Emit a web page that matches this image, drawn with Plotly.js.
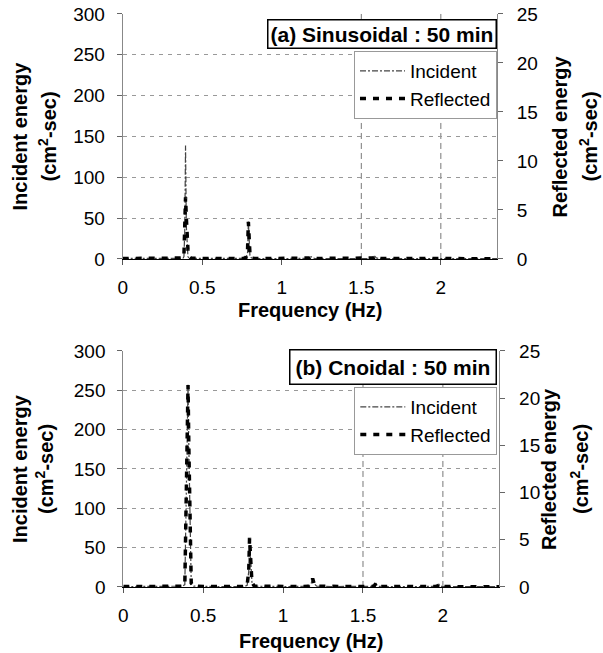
<!DOCTYPE html>
<html>
<head>
<meta charset="utf-8">
<script src="https://cdn.plot.ly/plotly-3.0.1.min.js"></script>
<style>html,body{margin:0;padding:0;background:#fff;}#chart{width:603px;height:653px;}</style>
</head>
<body>
<div id="chart"></div>
<script>
// Panel (a) Sinusoidal : 50 min
const freqA = [0, 0.1, 0.2, 0.3, 0.36, 0.38, 0.385, 0.39, 0.395, 0.40, 0.405, 0.41, 0.415, 0.43, 0.5, 0.6, 0.7, 0.76, 0.775, 0.785, 0.79, 0.795, 0.80, 0.81, 0.83, 0.9, 1.0, 1.1, 1.16, 1.175, 1.185, 1.195, 1.21, 1.3, 1.4, 1.5, 1.56, 1.575, 1.585, 1.595, 1.61, 1.7, 1.8, 1.9, 2.0, 2.1, 2.2, 2.3, 2.353];
const incidentA = [0.6, 0.5, 0.6, 0.7, 0.8, 1.2, 3, 35, 139, 40, 8, 3, 1.5, 0.8, 0.6, 0.5, 0.6, 0.8, 1.5, 8, 46, 12, 3, 1.2, 0.7, 0.5, 0.5, 0.6, 0.7, 1.5, 2.8, 1.2, 0.6, 0.5, 0.5, 0.5, 0.6, 1.5, 3.2, 1.3, 0.6, 0.5, 0.5, 0.4, 0.4, 0.4, 0.4, 0.4, 0.4];
const reflectedA = [0.05, 0.04, 0.05, 0.05, 0.06, 0.1, 0.4, 2.5, 6.3, 4.2, 1.2, 1.0, 0.3, 0.08, 0.05, 0.04, 0.05, 0.06, 0.15, 1.0, 3.8, 2.2, 0.5, 0.1, 0.05, 0.04, 0.04, 0.04, 0.05, 0.1, 0.22, 0.1, 0.05, 0.04, 0.04, 0.04, 0.05, 0.1, 0.25, 0.1, 0.05, 0.04, 0.04, 0.03, 0.03, 0.03, 0.03, 0.03, 0.03];

// Panel (b) Cnoidal : 50 min
const freqB = [0, 0.1, 0.2, 0.3, 0.37, 0.385, 0.39, 0.395, 0.40, 0.405, 0.41, 0.415, 0.42, 0.425, 0.44, 0.5, 0.6, 0.7, 0.76, 0.775, 0.785, 0.79, 0.795, 0.80, 0.805, 0.82, 0.9, 1.0, 1.1, 1.16, 1.175, 1.185, 1.195, 1.21, 1.3, 1.4, 1.5, 1.56, 1.572, 1.58, 1.588, 1.60, 1.7, 1.8, 1.9, 1.955, 1.968, 1.975, 1.982, 1.995, 2.1, 2.2, 2.3, 2.353];
const incidentB = [0.5, 0.5, 0.6, 0.7, 1, 3, 60, 120, 190, 257, 180, 100, 30, 4, 1, 0.6, 0.5, 0.6, 0.8, 2, 20, 62, 40, 20, 6, 1, 0.6, 0.6, 0.7, 1, 4, 11, 4, 1, 0.6, 0.5, 0.5, 0.8, 2, 5, 2, 0.7, 0.5, 0.5, 0.5, 0.7, 1.5, 3.5, 1.5, 0.6, 0.4, 0.4, 0.4, 0.4];
const reflectedB = [0.04, 0.04, 0.05, 0.05, 0.08, 0.3, 5, 10, 16, 21.4, 15, 8.5, 2.5, 0.4, 0.08, 0.05, 0.04, 0.05, 0.06, 0.2, 1.7, 5.2, 3.4, 1.7, 0.5, 0.08, 0.05, 0.05, 0.05, 0.08, 0.3, 0.9, 0.3, 0.08, 0.05, 0.04, 0.04, 0.06, 0.15, 0.4, 0.15, 0.06, 0.04, 0.04, 0.04, 0.05, 0.12, 0.28, 0.12, 0.05, 0.03, 0.03, 0.03, 0.03];

const xTicks = [0, 0.5, 1, 1.5, 2];
const xTickText = ['0', '0.5', '1', '1.5', '2'];
const xGridMarks = [1.5, 2];
const seriesNames = ['Incident', 'Reflected'];
const panelTitles = ['(a) Sinusoidal : 50 min', '(b) Cnoidal : 50 min'];
const xTitle = 'Frequency (Hz)';
const yLeftTitle = ['Incident energy', '(cm<sup>2</sup>-sec)'];
const yRightTitle = ['Reflected energy', '(cm<sup>2</sup>-sec)'];

const FONT = 'Liberation Sans, Arial, Helvetica, sans-serif';
const incLine = {color: '#444', width: 1.2, dash: '6px,2px,2px,2px'};
const refLine = {color: '#000', width: 3.5, dash: '6px,7px'};

const traces = [
  {x: freqA, y: incidentA, xaxis: 'x', yaxis: 'y', mode: 'lines', name: seriesNames[0], line: incLine, legend: 'legend'},
  {x: freqA, y: reflectedA, xaxis: 'x', yaxis: 'y2', mode: 'lines', name: seriesNames[1], line: refLine, legend: 'legend'},
  {x: freqB, y: incidentB, xaxis: 'x2', yaxis: 'y3', mode: 'lines', name: seriesNames[0], line: incLine, legend: 'legend2'},
  {x: freqB, y: reflectedB, xaxis: 'x2', yaxis: 'y4', mode: 'lines', name: seriesNames[1], line: refLine, legend: 'legend2'}
];

const xRange = [0, 2.353];
function xAxis(domain, anchor) {
  return {domain: domain, anchor: anchor, range: xRange, tickmode: 'array', tickvals: xTicks, ticktext: xTickText,
    ticks: 'outside', ticklen: 5, tickcolor: '#555', showline: true, linecolor: '#000', linewidth: 1,
    showgrid: false, zeroline: false, tickfont: {size: 19, color: '#000'}, ticklabelstandoff: 6};
}
function yLeft(domain, anchor) {
  return {domain: domain, anchor: anchor, range: [0, 300], tickmode: 'linear', tick0: 0, dtick: 50,
    ticks: 'outside', ticklen: 5, tickcolor: '#666', showline: true, linecolor: '#888', linewidth: 1,
    showgrid: true, gridcolor: '#999', gridwidth: 1, griddash: '4px,5px', zeroline: false,
    tickfont: {size: 19, color: '#000'}, ticklabelstandoff: 8};
}
function yRight(over, anchor) {
  return {overlaying: over, anchor: anchor, side: 'right', range: [0, 25], tickmode: 'linear', tick0: 0, dtick: 5,
    ticks: 'outside', ticklen: 5, tickcolor: '#666', showline: true, linecolor: '#888', linewidth: 1,
    showgrid: false, zeroline: false, tickfont: {size: 19, color: '#000'}, ticklabelstandoff: 10};
}

// vertical dashed grid marks (drawn from the xGridMarks array, in data coordinates)
function vGrid(xref, yref) {
  return xGridMarks.map(v => ({type: 'line', xref: xref, yref: yref + ' domain', x0: v, x1: v, y0: 0, y1: 1,
    layer: 'below', line: {color: '#777', width: 1, dash: '6px,4px'}}));
}

const titleFont = {size: 20, color: '#000', family: FONT};
function boldAnn(text, x, y, angle) {
  return {text: '<b>' + text + '</b>', xref: 'paper', yref: 'paper', x: x, y: y, xanchor: 'center', yanchor: 'middle',
    showarrow: false, textangle: angle, font: titleFont};
}

const layout = {
  width: 603, height: 653,
  margin: {l: 0, r: 0, t: 0, b: 0},
  paper_bgcolor: '#fff', plot_bgcolor: '#fff',
  font: {family: FONT, color: '#000'},
  xaxis: xAxis([0.2035, 0.8242], 'y'),
  yaxis: yLeft([0.6034, 0.9786], 'x'),
  yaxis2: yRight('y', 'x'),
  xaxis2: xAxis([0.2045, 0.828], 'y3'),
  yaxis3: yLeft([0.1011, 0.4625], 'x2'),
  yaxis4: yRight('y3', 'x2'),
  shapes: vGrid('x', 'y').concat(vGrid('x2', 'y3')),
  showlegend: true,
  legend: {x: 0.8242, xanchor: 'right', y: 0.9219, yanchor: 'top', bgcolor: '#fff', bordercolor: '#999',
    borderwidth: 1, font: {size: 19, family: FONT}, itemwidth: 45, tracegroupgap: 0},
  legend2: {x: 0.8247, xanchor: 'right', y: 0.4074, yanchor: 'top', bgcolor: '#fff', bordercolor: '#999',
    borderwidth: 1, font: {size: 19, family: FONT}, itemwidth: 45, tracegroupgap: 0},
  annotations: [
    {text: '<b>' + panelTitles[0] + '</b>', xref: 'paper', yref: 'paper', x: 0.8242, y: 0.9709,
      xanchor: 'right', yanchor: 'top', showarrow: false, bgcolor: '#fff', bordercolor: '#000', borderwidth: 1.5,
      borderpad: 2, font: {size: 21, color: '#000', family: FONT}},
    {text: '<b>' + panelTitles[1] + '</b>', xref: 'paper', yref: 'paper', x: 0.8247, y: 0.4651,
      xanchor: 'right', yanchor: 'top', showarrow: false, bgcolor: '#fff', bordercolor: '#000', borderwidth: 1.5,
      borderpad: 5, font: {size: 21, color: '#000', family: FONT}},
    boldAnn(yLeftTitle[0], 20 / 603, 0.791, -90),
    boldAnn(yLeftTitle[1], 47 / 603, 0.791, -90),
    boldAnn(yRightTitle[0], 560 / 603, 0.791, -90),
    boldAnn(yRightTitle[1], 588 / 603, 0.791, -90),
    boldAnn(yLeftTitle[0], 20 / 603, 0.2818, -90),
    boldAnn(yLeftTitle[1], 45 / 603, 0.2818, -90),
    boldAnn(yRightTitle[0], 549 / 603, 0.2818, -90),
    boldAnn(yRightTitle[1], 580 / 603, 0.2818, -90),
    boldAnn(xTitle, 0.514, 0.5253, 0),
    boldAnn(xTitle, 0.5158, 0.0184, 0)
  ]
};

Plotly.newPlot('chart', traces, layout, {staticPlot: true, displayModeBar: false});
</script>
</body>
</html>
